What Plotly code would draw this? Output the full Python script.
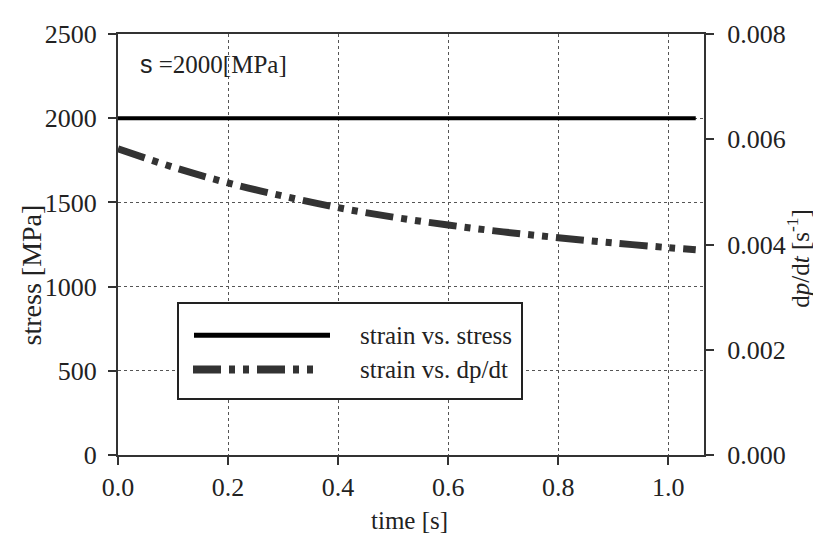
import plotly.graph_objects as go

time_s = [0.0, 0.1, 0.2, 0.3, 0.4, 0.5, 0.6, 0.7, 0.8, 0.9, 1.0, 1.05]
stress_mpa = [2000] * len(time_s)
dpdt = [0.00582, 0.00547, 0.00517, 0.00492, 0.00470, 0.00452, 0.00437,
        0.00424, 0.00413, 0.00403, 0.00394, 0.00390]

x_ticks = [0.0, 0.2, 0.4, 0.6, 0.8, 1.0]
x_ticklabels = ["0.0", "0.2", "0.4", "0.6", "0.8", "1.0"]
y_ticks = [0, 500, 1000, 1500, 2000, 2500]
y2_ticks = [0.0, 0.002, 0.004, 0.006, 0.008]
y2_ticklabels = ["0.000", "0.002", "0.004", "0.006", "0.008"]

SERIF = "Liberation Serif, Times New Roman, Times, serif"
SANS = "Liberation Sans, Arial, sans-serif"
DASH = "28px,8px,6px,8px,6px,8px"
TXT = "#222222"

# page has an 8px body margin; shift plot accordingly
W, H = 813, 527
L, R, T, B = 110, 117, 18, 80
PX0, PX1 = L + 8, W - R + 8      # plot area in screen px
PY0, PY1 = T + 8, H - B + 8

fig = go.Figure()
fig.add_trace(go.Scatter(x=time_s, y=stress_mpa, mode="lines",
                         line=dict(color="black", width=4),
                         name="strain vs. stress", showlegend=False))
fig.add_trace(go.Scatter(x=time_s, y=dpdt, mode="lines", yaxis="y2",
                         line=dict(color="#333333", width=7, dash=DASH, shape="spline"),
                         name="strain vs. dp/dt", showlegend=False))

axis_common = dict(showline=True, linecolor="#333333", linewidth=2,
                   ticks="outside", ticklen=8, tickwidth=1.5, tickcolor="#333333",
                   tickfont=dict(family=SERIF, size=26, color=TXT),
                   zeroline=False)

fig.update_layout(
    width=W, height=H,
    margin=dict(l=L, r=R, t=T, b=B),
    paper_bgcolor="white", plot_bgcolor="white",
    font=dict(family=SERIF, color=TXT),
    xaxis=dict(range=[0, 1.065], tickvals=x_ticks, ticktext=x_ticklabels,
               showgrid=True, gridcolor="#555555", griddash="dot", gridwidth=1,
               mirror=True, **axis_common),
    yaxis=dict(range=[0, 2500], tickvals=y_ticks,
               showgrid=True, gridcolor="#555555", griddash="dot", gridwidth=1,
               ticklabelstandoff=6, **axis_common),
    yaxis2=dict(range=[0, 0.008], tickvals=y2_ticks, ticktext=y2_ticklabels,
                overlaying="y", side="right", showgrid=False,
                ticklabelstandoff=8, **axis_common),
    showlegend=False,
)


def px(xs):
    return (xs - PX0) / (PX1 - PX0)


def py(ys):
    return (PY1 - ys) / (PY1 - PY0)


# axis titles
fig.add_annotation(xref="paper", yref="paper", x=px(409), y=py(522), xanchor="center", yanchor="middle",
                   text="time [s]", showarrow=False, font=dict(family=SERIF, size=25, color=TXT))
fig.add_annotation(xref="paper", yref="paper", x=px(31), y=py(272), xanchor="center", yanchor="middle",
                   text="stress [MPa]", textangle=-90, showarrow=False,
                   font=dict(family=SERIF, size=28, color=TXT))
fig.add_annotation(xref="paper", yref="paper", x=px(798), y=py(255), xanchor="center", yanchor="middle",
                   text="d<i>p</i>/d<i>t</i> [s<sup>-1</sup>]", textangle=-90, showarrow=False,
                   font=dict(family=SERIF, size=25, color=TXT))

# annotation for stress value
fig.add_annotation(xref="paper", yref="paper", x=px(138), y=py(57), xanchor="left", yanchor="middle",
                   text="<span style='font-family:Liberation Sans, Arial, sans-serif'>s</span> =2000[MPa]",
                   showarrow=False, font=dict(family=SERIF, size=25, color=TXT))

# manual legend box
fig.add_shape(type="rect", xref="paper", yref="paper",
              x0=px(178), x1=px(522), y0=py(398), y1=py(300),
              line=dict(color="#222222", width=2), fillcolor="white", layer="above")
fig.add_shape(type="line", xref="paper", yref="paper",
              x0=px(194), x1=px(330), y0=py(333), y1=py(333),
              line=dict(color="black", width=5), layer="above")
fig.add_shape(type="line", xref="paper", yref="paper",
              x0=px(193), x1=px(318), y0=py(368), y1=py(368),
              line=dict(color="#333333", width=8, dash=DASH), layer="above")
fig.add_annotation(xref="paper", yref="paper", x=px(358), y=py(333), xanchor="left", yanchor="middle",
                   text="strain vs. stress", showarrow=False,
                   font=dict(family=SERIF, size=25, color=TXT))
fig.add_annotation(xref="paper", yref="paper", x=px(358), y=py(368), xanchor="left", yanchor="middle",
                   text="strain vs. dp/dt", showarrow=False,
                   font=dict(family=SERIF, size=25, color=TXT))

fig.write_html("out.html")
